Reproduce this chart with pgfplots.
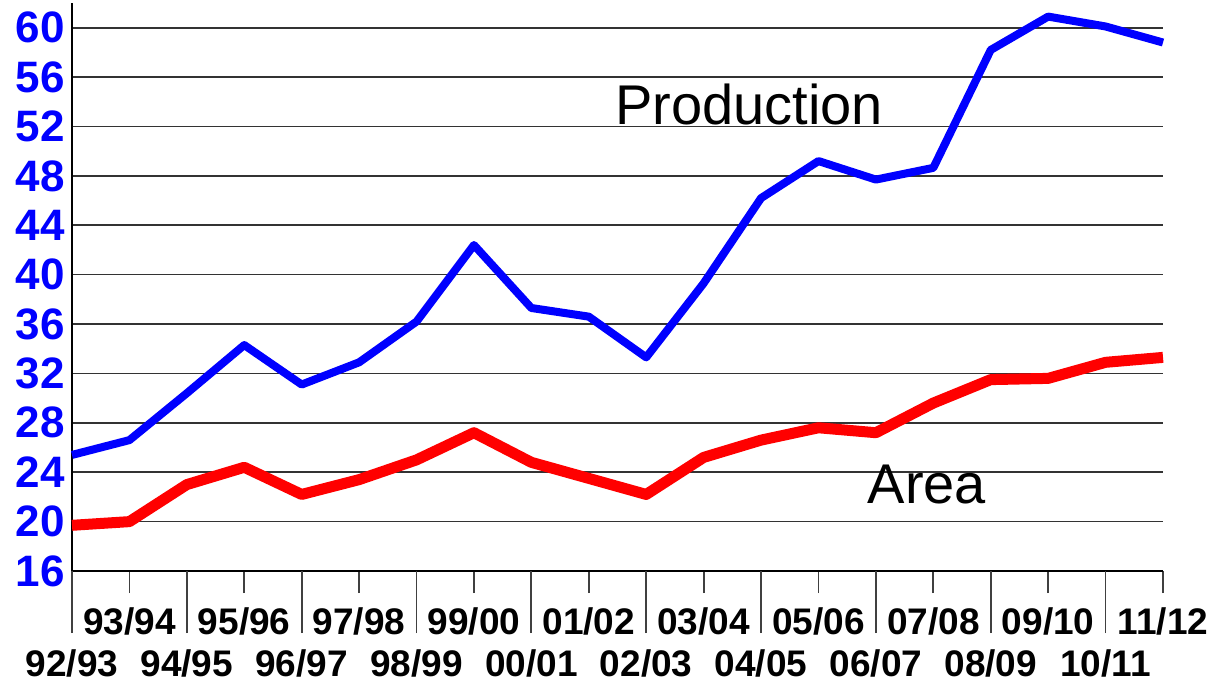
\documentclass[border=0pt]{standalone}
\usepackage{fontspec}
\setmainfont{Liberation Sans}
\usepackage{pgfplots}
\pgfplotsset{compat=1.18}
\definecolor{pblue}{RGB}{0,0,255}
\definecolor{ared}{RGB}{255,0,0}
\tikzset{up/.style={anchor=base, inner sep=0pt, yshift=-31.5pt, font=\bfseries\fontsize{18.5}{20}\selectfont},
         lo/.style={anchor=base, inner sep=0pt, yshift=-52.5pt, font=\bfseries\fontsize{18.5}{20}\selectfont}}
\begin{document}
\begin{tikzpicture}
\path[use as bounding box] (0,0) rectangle (616pt,341pt);
\begin{axis}[
  at={(36pt,55.5pt)}, anchor=south west,
  scale only axis, width=545.5pt, height=284pt,
  xmin=0, xmax=19, ymin=16, ymax=62,
  axis x line=bottom, axis y line=left,
  axis line style={-, black, line width=0.9pt},
  tick align=outside,
  xtick={1,3,...,19}, xticklabels={},
  major tick length=11pt,
  xtick style={black!75, line width=0.9pt},
  extra x ticks={0,2,...,18}, extra x tick labels={},
  extra x tick style={major tick length=31pt},
  ytick={16,20,...,60},
  ytick style={draw=none},
  ymajorgrids, grid style={black!80, line width=0.8pt},
  yticklabel style={font=\bfseries\fontsize{22}{22}\selectfont, text=pblue, inner sep=0pt, anchor=east, xshift=7.5pt},
  /pgf/number format/assume math mode=true,
  clip=false,
]
\addplot[pblue, line width=4pt, line join=round] coordinates {
(0,25.4)(1,26.6)(2,30.4)(3,34.3)(4,31.1)(5,32.9)(6,36.2)(7,42.4)(8,37.3)(9,36.6)
(10,33.3)(11,39.3)(12,46.2)(13,49.2)(14,47.7)(15,48.65)(16,58.2)(17,60.9)(18,60.1)(19,58.8)};
\addplot[ared, line width=5.5pt, line join=round] coordinates {
(0,19.7)(1,20.0)(2,23.0)(3,24.4)(4,22.2)(5,23.4)(6,25.0)(7,27.2)(8,24.8)(9,23.5)
(10,22.2)(11,25.2)(12,26.6)(13,27.6)(14,27.2)(15,29.6)(16,31.5)(17,31.6)(18,32.9)(19,33.3)};
\node[anchor=base west, inner sep=0pt, font=\fontsize{28}{30}\selectfont] at (axis cs:9.457,52.14) {Production};
\node[anchor=base west, inner sep=0pt, font=\fontsize{28}{30}\selectfont] at (axis cs:13.85,21.5) {Area};
\node[up] at (axis cs:1,16) {93/94};
\node[up] at (axis cs:3,16) {95/96};
\node[up] at (axis cs:5,16) {97/98};
\node[up] at (axis cs:7,16) {99/00};
\node[up] at (axis cs:9,16) {01/02};
\node[up] at (axis cs:11,16) {03/04};
\node[up] at (axis cs:13,16) {05/06};
\node[up] at (axis cs:15,16) {07/08};
\node[up] at (axis cs:17,16) {09/10};
\node[up] at (axis cs:19,16) {11/12};
\node[lo] at (axis cs:0,16) {92/93};
\node[lo] at (axis cs:2,16) {94/95};
\node[lo] at (axis cs:4,16) {96/97};
\node[lo] at (axis cs:6,16) {98/99};
\node[lo] at (axis cs:8,16) {00/01};
\node[lo] at (axis cs:10,16) {02/03};
\node[lo] at (axis cs:12,16) {04/05};
\node[lo] at (axis cs:14,16) {06/07};
\node[lo] at (axis cs:16,16) {08/09};
\node[lo] at (axis cs:18,16) {10/11};
\end{axis}
\end{tikzpicture}
\end{document}
